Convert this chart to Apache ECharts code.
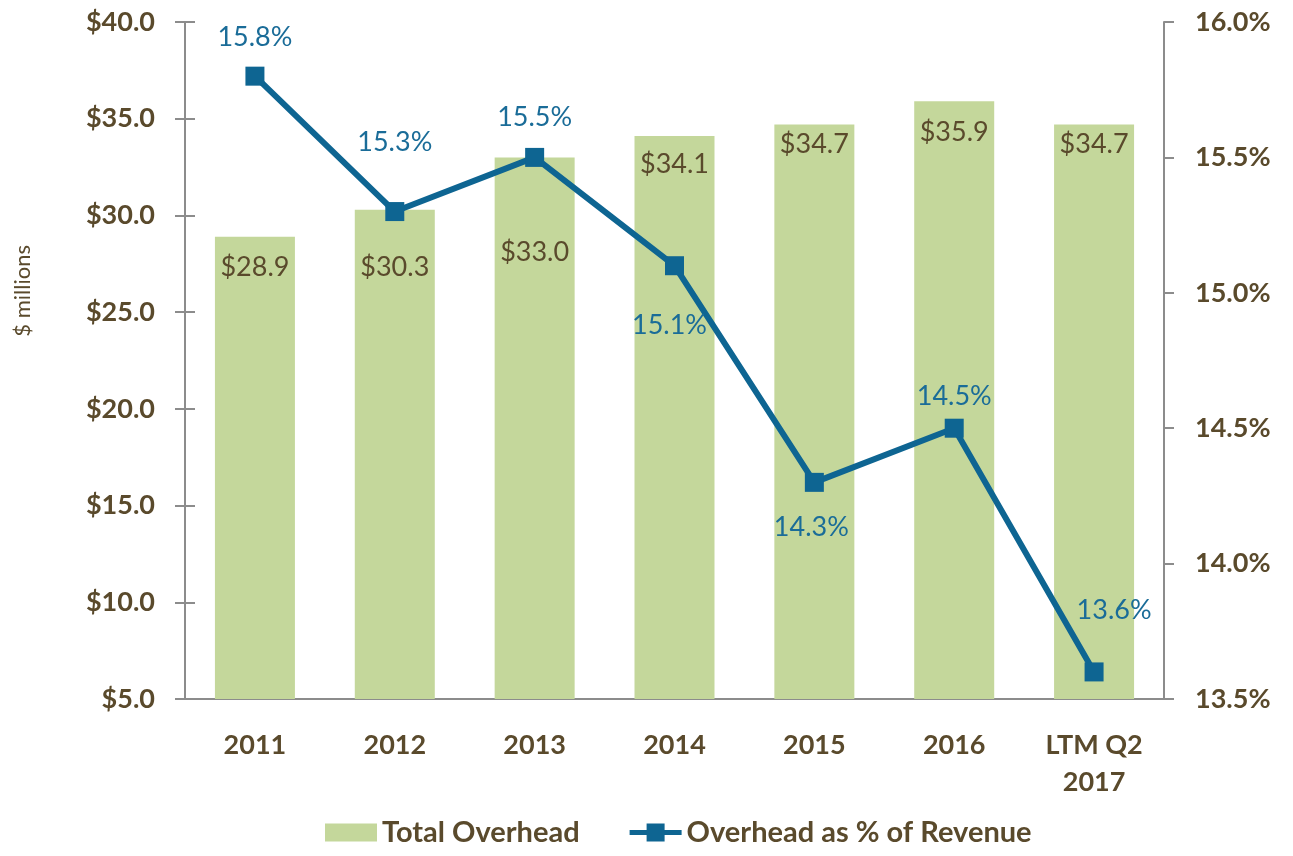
<!DOCTYPE html>
<html>
<head>
<meta charset="utf-8">
<script src="https://cdn.jsdelivr.net/npm/echarts@6/dist/echarts.min.js"></script>
<style>
  html, body { margin: 0; padding: 0; background: #ffffff; }
  #chart { width: 1293px; height: 856px; }
</style>
</head>
<body>
<div id="chart"></div>
<script>
// Categories and series values
const categories = ['2011', '2012', '2013', '2014', '2015', '2016', 'LTM Q2\n2017'];
const totalOverhead = [28.9, 30.3, 33.0, 34.1, 34.7, 35.9, 34.7];        // $ millions
const overheadPct = [15.8, 15.3, 15.5, 15.1, 14.3, 14.5, 13.6];          // % of revenue

// Axis ranges
const leftMin = 5, leftMax = 40, leftStep = 5;
const rightMin = 13.5, rightMax = 16.0, rightStep = 0.5;

// Label placement tweaks (pixels), kept apart from the values
const barLabelShift = [17, 44, 81, 15, 6, 17, 6];
const lineLabelShift = [[0, -39], [0, -69], [0, -40], [-5, 60], [-3, 45], [0, -32], [20, -62]];

const BROWN = '#5A4A2C';
const BLUE = '#0E6592';
const BLUE_TEXT = '#1A6C98';
const GREEN = '#C4D79B';
const AXIS = '#8C8C8C';
const FONT = 'Lato, "Open Sans", sans-serif';

// legend glyph for the line series: thick stroke with a square marker
const LINE_ICON = 'path://M0,6.5 L17,6.5 L17,0 L35,0 L35,6.5 L52,6.5 L52,11.5 L35,11.5 L35,18 L17,18 L17,11.5 L0,11.5 Z';

const chart = echarts.init(document.getElementById('chart'));

const barData = totalOverhead.map((v, i) => ({
  value: v,
  label: { offset: [0, barLabelShift[i]] }
}));
const lineData = overheadPct.map((v, i) => ({
  value: v,
  label: { offset: lineLabelShift[i] }
}));

chart.setOption({
  backgroundColor: '#ffffff',
  animation: false,
  grid: { left: 185, right: 129, top: 22, bottom: 157 },
  legend: {
    left: 320,
    bottom: 4,
    itemWidth: 52,
    itemHeight: 18,
    itemGap: 50,
    textStyle: { color: BROWN, fontSize: 29, fontWeight: 'bold', fontFamily: FONT },
    data: [
      { name: 'Total Overhead', icon: 'rect' },
      { name: 'Overhead as % of Revenue', icon: LINE_ICON }
    ]
  },
  graphic: [{
    type: 'text',
    left: 12,
    top: 245,
    style: {
      text: '$ millions',
      fill: BROWN,
      fontSize: 22,
      fontFamily: 'Lato'
    },
    rotation: Math.PI / 2
  }],
  xAxis: {
    type: 'category',
    data: categories,
    axisLine: { show: true, lineStyle: { color: AXIS, width: 2 } },
    axisTick: { show: false },
    axisLabel: {
      color: BROWN,
      fontSize: 27,
      fontWeight: 'bold',
      fontFamily: FONT,
      margin: 28,
      lineHeight: 37,
      interval: 0
    }
  },
  yAxis: [{
    type: 'value',
    min: leftMin, max: leftMax, interval: leftStep,
    position: 'left',
    axisLine: { show: true, lineStyle: { color: AXIS, width: 2 } },
    axisTick: { show: true, length: 10, lineStyle: { color: AXIS, width: 2 } },
    splitLine: { show: false },
    axisLabel: {
      color: BROWN, fontSize: 27, fontWeight: 'bold', fontFamily: FONT, margin: 30,
      formatter: v => '$' + v.toFixed(1)
    }
  }, {
    type: 'value',
    min: rightMin, max: rightMax, interval: rightStep,
    position: 'right',
    axisLine: { show: true, lineStyle: { color: AXIS, width: 2 } },
    axisTick: { show: true, length: 10, lineStyle: { color: AXIS, width: 2 } },
    splitLine: { show: false },
    axisLabel: {
      color: BROWN, fontSize: 27, fontWeight: 'bold', fontFamily: FONT, margin: 31,
      formatter: v => v.toFixed(1) + '%'
    }
  }, {
    // inner half of the crossing tick marks on the left axis
    type: 'value',
    min: leftMin, max: leftMax, interval: leftStep,
    position: 'left',
    axisLine: { show: false },
    axisTick: { show: true, inside: true, length: 10, lineStyle: { color: AXIS, width: 2 } },
    axisLabel: { show: false },
    splitLine: { show: false }
  }],
  series: [{
    name: 'Total Overhead',
    type: 'bar',
    yAxisIndex: 0,
    barWidth: 80,
    data: barData,
    itemStyle: { color: GREEN },
    label: {
      show: true,
      position: 'insideTop',
      distance: 0,
      color: BROWN,
      fontSize: 27,
      fontFamily: FONT,
      formatter: p => '$' + p.value.toFixed(1)
    },
    z: 1
  }, {
    name: 'Overhead as % of Revenue',
    type: 'line',
    yAxisIndex: 1,
    data: lineData,
    symbol: 'rect',
    symbolSize: 19,
    lineStyle: { color: BLUE, width: 6 },
    itemStyle: { color: BLUE },
    label: {
      show: true,
      position: 'inside',
      color: BLUE_TEXT,
      fontSize: 27,
      fontFamily: FONT,
      formatter: p => p.value.toFixed(1) + '%'
    },
    z: 3
  }]
});
</script>
</body>
</html>
